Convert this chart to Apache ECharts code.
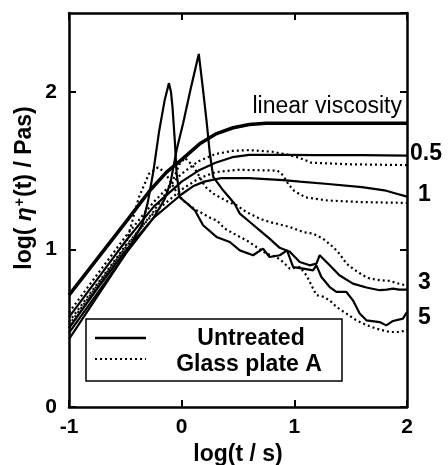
<!DOCTYPE html>
<html>
<head>
<meta charset="utf-8">
<script src="https://cdn.jsdelivr.net/npm/echarts@6/dist/echarts.min.js"></script>
<style>
html,body{margin:0;padding:0;background:#fff;}
#c{width:448px;height:465px;}
</style>
</head>
<body>
<div id="c"></div>
<script>
// ---- data: [log(t/s), log(eta+ / Pas)] ----
var linearViscosity = [[-1,0.71],[-0.75,0.94],[-0.5,1.17],[-0.28,1.375],[-0.134,1.49],[0,1.57],[0.16,1.67],[0.31,1.735],[0.457,1.772],[0.6,1.792],[0.75,1.80],[1.0,1.80],[1.5,1.80],[2.0,1.80]];

var untreated05 = [[-1,0.57],[-0.75,0.81],[-0.5,1.05],[-0.25,1.27],[0,1.43],[0.15,1.50],[0.3,1.55],[0.45,1.585],[0.6,1.60],[0.9,1.60],[1.2,1.598],[1.6,1.598],[2.0,1.595]];
var glass05 = [[-1,0.60],[-0.75,0.84],[-0.5,1.08],[-0.25,1.30],[0,1.48],[0.15,1.56],[0.3,1.605],[0.45,1.625],[0.6,1.63],[0.8,1.62],[0.95,1.60],[1.05,1.58],[1.15,1.55],[1.5,1.54],[2.0,1.535]];

var untreated1 = [[-1,0.50],[-0.75,0.75],[-0.5,0.99],[-0.25,1.20],[0,1.35],[0.1,1.40],[0.2,1.43],[0.35,1.452],[0.6,1.452],[0.9,1.44],[1.05,1.43],[1.3,1.415],[1.6,1.395],[1.8,1.375],[1.9,1.355],[2.0,1.335]];
var glass1 = [[-1,0.54],[-0.75,0.78],[-0.5,1.02],[-0.25,1.23],[0,1.38],[0.15,1.45],[0.3,1.49],[0.5,1.505],[0.85,1.50],[0.9,1.47],[0.95,1.41],[1.0,1.37],[1.1,1.33],[1.3,1.31],[1.6,1.30],[2.0,1.295]];

var untreated3 = [[-1,0.47],[-0.75,0.72],[-0.5,0.97],[-0.25,1.20],[-0.15,1.32],[-0.1,1.42],[-0.045,1.63],[0.013,1.80],[0.08,2.02],[0.152,2.24],[0.19,2.01],[0.22,1.82],[0.25,1.61],[0.28,1.46],[0.368,1.375],[0.47,1.29],[0.516,1.227],[0.605,1.174],[0.693,1.121],[0.78,1.068],[0.87,1.01],[0.96,0.985],[1.048,0.92],[1.137,0.899],[1.196,0.91],[1.225,0.963],[1.314,0.899],[1.40,0.836],[1.52,0.783],[1.64,0.758],[1.757,0.741],[1.82,0.745],[1.876,0.751],[1.93,0.745],[2.0,0.745]];
var glass3 = [[-1,0.52],[-0.75,0.77],[-0.5,1.01],[-0.25,1.24],[-0.1,1.40],[-0.02,1.54],[0.03,1.58],[0.1,1.53],[0.16,1.46],[0.206,1.40],[0.28,1.354],[0.34,1.33],[0.42,1.30],[0.487,1.28],[0.575,1.237],[0.693,1.195],[0.78,1.174],[0.9,1.153],[0.96,1.142],[1.078,1.11],[1.166,1.10],[1.255,1.068],[1.344,1.015],[1.40,0.973],[1.462,0.91],[1.52,0.878],[1.61,0.835],[1.67,0.815],[1.757,0.805],[1.846,0.80],[1.93,0.782],[2.0,0.77]];

var untreated5 = [[-1,0.43],[-0.75,0.70],[-0.5,0.97],[-0.35,1.16],[-0.3,1.30],[-0.25,1.50],[-0.2,1.75],[-0.15,1.95],[-0.113,2.055],[-0.095,2.00],[-0.081,1.90],[-0.06,1.68],[-0.045,1.48],[-0.016,1.33],[0.05,1.29],[0.117,1.248],[0.19,1.153],[0.309,1.079],[0.427,1.047],[0.516,0.994],[0.634,0.963],[0.722,1.005],[0.78,0.952],[0.871,0.963],[0.935,0.994],[0.99,0.888],[1.08,0.878],[1.166,0.867],[1.196,0.899],[1.24,0.825],[1.314,0.761],[1.373,0.730],[1.462,0.730],[1.52,0.677],[1.58,0.593],[1.64,0.55],[1.757,0.539],[1.816,0.518],[1.876,0.546],[1.964,0.561],[2.0,0.603]];
var glass5 = [[-1,0.50],[-0.75,0.76],[-0.5,1.02],[-0.38,1.33],[-0.29,1.48],[-0.21,1.52],[-0.15,1.49],[-0.1,1.43],[-0.05,1.37],[0.013,1.31],[0.13,1.248],[0.19,1.227],[0.265,1.195],[0.31,1.185],[0.383,1.132],[0.487,1.09],[0.575,1.058],[0.664,1.015],[0.753,0.973],[0.84,0.952],[0.9,0.92],[0.96,0.878],[1.048,0.888],[1.107,0.836],[1.137,0.794],[1.166,0.752],[1.196,0.71],[1.255,0.70],[1.314,0.677],[1.373,0.635],[1.462,0.593],[1.55,0.55],[1.64,0.52],[1.728,0.497],[1.846,0.476],[1.93,0.476],[2.0,0.487]];

var xTicks = [-1, 0, 1, 2];
var yTicks = [0, 1, 2];
var rateLabels = ['0.5', '1', '3', '5'];
var legendNames = ['Untreated', 'Glass plate A'];
var xName = 'log(t / s)';

var FONT = '"Liberation Sans", Arial, Helvetica, sans-serif';
var chart = echarts.init(document.getElementById('c'), null, {renderer: 'canvas'});

function solid(name, data, w) {
  return {name: name, type: 'line', data: data, symbol: 'none', smooth: false, silent: true,
    lineStyle: {color: '#000', width: w || 2.2, type: 'solid'}};
}
function dotted(name, data) {
  return {name: name, type: 'line', data: data, symbol: 'none', smooth: false, silent: true,
    lineStyle: {color: '#000', width: 2.2, type: [2, 3]}};
}

var axisLine = {show: true, onZero: false, lineStyle: {color: '#000', width: 2.5}};
var axisTick = {show: true, inside: true, length: 7, lineStyle: {color: '#000', width: 2}};
var labelStyle = {color: '#000', fontSize: 21, fontWeight: 'bold', fontFamily: FONT};

var option = {
  backgroundColor: '#fff',
  animation: false,
  grid: {left: 69, right: 41, top: 13, bottom: 58, containLabel: false, outerBoundsMode: 'none'},
  xAxis: [
    {type: 'value', min: xTicks[0], max: xTicks[xTicks.length - 1], interval: 1, position: 'bottom',
     axisLine: axisLine, axisTick: axisTick, splitLine: {show: false},
     axisLabel: Object.assign({margin: 10}, labelStyle),
     name: xName, nameLocation: 'middle', nameGap: 6,
     nameTextStyle: {color: '#000', fontSize: 23, fontWeight: 'bold', fontFamily: FONT}},
    {type: 'value', min: xTicks[0], max: xTicks[xTicks.length - 1], interval: 1, position: 'top',
     axisLine: axisLine, axisTick: axisTick, splitLine: {show: false}, axisLabel: {show: false}}
  ],
  yAxis: [
    {type: 'value', min: yTicks[0], max: 2.5, interval: 1, position: 'left',
     axisLine: axisLine, axisTick: axisTick, splitLine: {show: false},
     axisLabel: Object.assign({margin: 12, showMaxLabel: false}, labelStyle)},
    {type: 'value', min: yTicks[0], max: 2.5, interval: 1, position: 'right',
     axisLine: axisLine, axisTick: axisTick, splitLine: {show: false}, axisLabel: {show: false}}
  ],
  series: [
    solid('linear viscosity', linearViscosity, 3.5),
    solid(legendNames[0] + ' 0.5', untreated05),
    dotted(legendNames[1] + ' 0.5', glass05),
    solid(legendNames[0] + ' 1', untreated1),
    dotted(legendNames[1] + ' 1', glass1),
    solid(legendNames[0] + ' 3', untreated3),
    dotted(legendNames[1] + ' 3', glass3),
    solid(legendNames[0] + ' 5', untreated5),
    dotted(legendNames[1] + ' 5', glass5)
  ],
  graphic: [
    {type: 'text', x: 25, y: 188, rotation: Math.PI / 2, z: 100,
     style: {text: 'log( {i|η}{s|+}(t) / Pas)', fill: '#000', font: 'bold 23px ' + FONT,
       textAlign: 'center', textVerticalAlign: 'middle',
       rich: {i: {fontStyle: 'italic', fontWeight: 'bold', fontSize: 23, fontFamily: FONT},
              s: {fontWeight: 'bold', fontSize: 14, fontFamily: FONT, verticalAlign: 'top', padding: [0, 1, 8, 1]}}}},
    {type: 'text', x: 402, y: 107, z: 100,
     style: {text: 'linear viscosity', fill: '#000', font: '23px ' + FONT, textAlign: 'right', textVerticalAlign: 'middle'}},
    {type: 'text', x: 410, y: 154, z: 100,
     style: {text: rateLabels[0], fill: '#000', font: 'bold 23px ' + FONT, textAlign: 'left', textVerticalAlign: 'middle'}},
    {type: 'text', x: 418, y: 195, z: 100,
     style: {text: rateLabels[1], fill: '#000', font: 'bold 23px ' + FONT, textAlign: 'left', textVerticalAlign: 'middle'}},
    {type: 'text', x: 418, y: 283, z: 100,
     style: {text: rateLabels[2], fill: '#000', font: 'bold 23px ' + FONT, textAlign: 'left', textVerticalAlign: 'middle'}},
    {type: 'text', x: 418, y: 318, z: 100,
     style: {text: rateLabels[3], fill: '#000', font: 'bold 23px ' + FONT, textAlign: 'left', textVerticalAlign: 'middle'}},
    {type: 'rect', z: 100, shape: {x: 86, y: 319, width: 256, height: 62},
     style: {fill: '#fff', stroke: '#000', lineWidth: 1.5}},
    {type: 'line', z: 101, shape: {x1: 95, y1: 338, x2: 146, y2: 338},
     style: {stroke: '#000', lineWidth: 2.5}},
    {type: 'line', z: 101, shape: {x1: 95, y1: 359, x2: 146, y2: 359},
     style: {stroke: '#000', lineWidth: 2.2, lineDash: [2, 3]}},
    {type: 'text', x: 251, y: 339, z: 101,
     style: {text: legendNames[0], fill: '#000', font: 'bold 23px ' + FONT, textAlign: 'center', textVerticalAlign: 'middle'}},
    {type: 'text', x: 249, y: 365, z: 101,
     style: {text: legendNames[1], fill: '#000', font: 'bold 23px ' + FONT, textAlign: 'center', textVerticalAlign: 'middle'}}
  ]
};
chart.setOption(option);
</script>
</body>
</html>
